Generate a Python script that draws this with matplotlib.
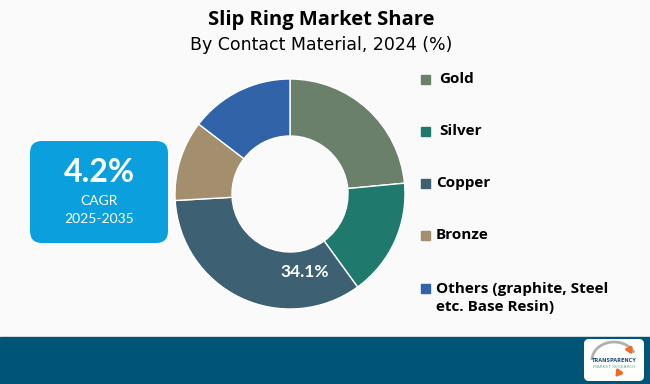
import matplotlib.pyplot as plt
from matplotlib.patches import FancyBboxPatch, Rectangle, FancyArrowPatch, Arc

# data
materials = ["Gold", "Silver", "Copper", "Bronze", "Others (graphite, Steel\netc. Base Resin)"]
shares = [23.5, 16.5, 34.1, 11.3, 14.6]
colors = ["#6b806b", "#1f7a6d", "#3e6073", "#a38f6d", "#3063a8"]
cagr = "4.2%"
cagr_period = "2025-2035"

W, H = 650, 384
fig = plt.figure(figsize=(6.5, 3.84), dpi=100)
fig.patch.set_facecolor("#fafafa")
ax = fig.add_axes([0, 0, 1, 1])
ax.set_facecolor("#fafafa")

def py(y):
    # pixel row (from top) -> data y
    return H - y

wedges, _ = ax.pie(shares, colors=colors, startangle=90, counterclock=False,
                   radius=115, center=(290, py(194)),
                   wedgeprops=dict(width=57, edgecolor="white", linewidth=1))
ax.set_xlim(0, W)
ax.set_ylim(0, H)
ax.set_aspect("equal")
ax.axis("off")

ax.text(305, py(272), "34.1%", color="white", fontsize=12.5, fontweight="bold",
        ha="center", va="center", family="Lato")

# title
ax.text(321, py(20), "Slip Ring Market Share", fontsize=14.5, fontweight="bold",
        ha="center", va="center", family="Open Sans")
ax.text(321, py(45), "By Contact Material, 2024 (%)", fontsize=12.5,
        ha="center", va="center", family="DejaVu Sans")

# legend
legend_y = [79, 131, 183, 235, 288]
text_x = [439, 439, 436, 436, 436]
for name, c, y, tx in zip(materials, colors, legend_y, text_x):
    ax.add_patch(Rectangle((421, py(y) - 4.5), 9, 9, color=c))
    if "\n" in name:
        ax.text(tx, py(y) + 6, name, fontsize=11, fontweight="bold", ha="left",
                va="top", family="Open Sans", linespacing=1.35)
    else:
        ax.text(tx, py(y), name, fontsize=11, fontweight="bold", ha="left",
                va="center", family="Open Sans")

# CAGR box
ax.add_patch(FancyBboxPatch((30, py(243)), 138, 102,
                            boxstyle="round,pad=0,rounding_size=12",
                            facecolor="#0b9fde", edgecolor="none"))
ax.text(99, py(173), cagr, color="white", fontsize=23, fontweight="bold",
        ha="center", va="center", family="Lato")
ax.text(99, py(201), "CAGR", color="white", fontsize=10, ha="center",
        va="center", family="Lato")
ax.text(99, py(219), cagr_period, color="white", fontsize=10, ha="center",
        va="center", family="Lato")

# bottom banner and logo
ax.add_patch(Rectangle((0, 0), W, H - 337, color="#005577"))
ax.add_patch(FancyBboxPatch((584, py(381)), 60, 42,
                            boxstyle="round,pad=0,rounding_size=5",
                            facecolor="white", edgecolor="none"))
ax.add_patch(Arc((614, py(360)), 44, 36, theta1=20, theta2=180,
                 color="#b0b0b0", linewidth=2))
ax.add_patch(FancyArrowPatch((628, py(352)), (634, py(343)),
                             arrowstyle="-|>,head_length=3,head_width=2",
                             color="#f26b21", linewidth=2))
ax.add_patch(FancyArrowPatch((620, py(371)), (614, py(379)),
                             arrowstyle="-|>,head_length=3,head_width=2",
                             color="#f26b21", linewidth=2))
ax.text(614, py(361), "TRANSPARENCY", fontsize=3.6, fontweight="bold",
        color="#1f4e79", ha="center", va="center")
ax.text(614, py(367), "MARKET RESEARCH", fontsize=3.2, color="#5cb88a",
        ha="center", va="center")

fig.savefig("out.png", dpi=100, facecolor=fig.get_facecolor())
